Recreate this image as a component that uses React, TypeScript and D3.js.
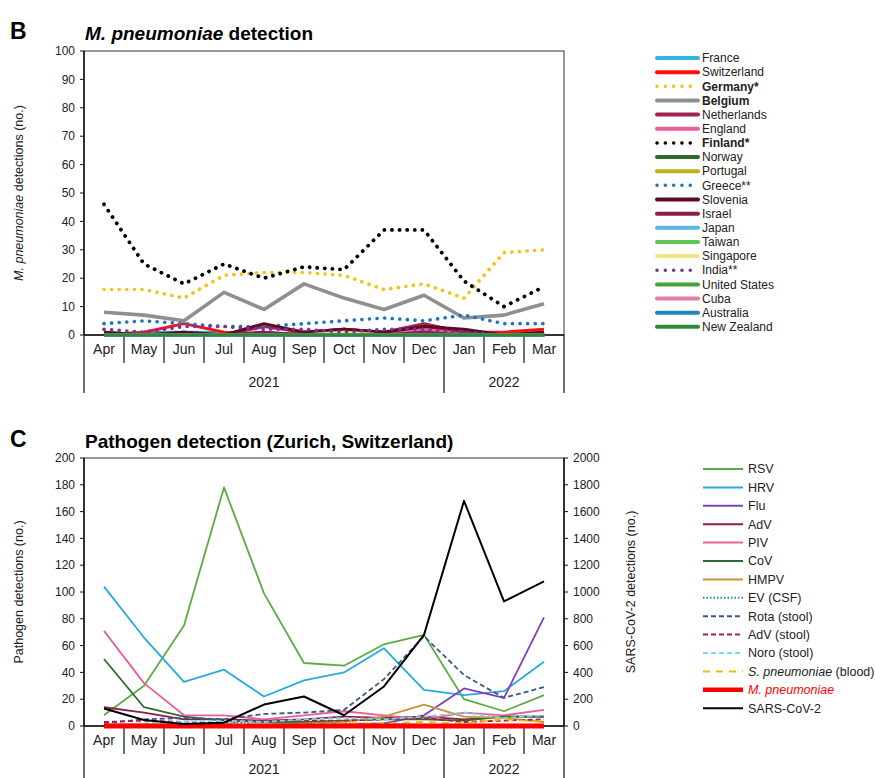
import React, { useEffect, useRef } from "react";
import * as d3 from "d3";

const FONT = "'Liberation Sans', Arial, sans-serif";

// shared x categories
const months = ["Apr", "May", "Jun", "Jul", "Aug", "Sep", "Oct", "Nov", "Dec", "Jan", "Feb", "Mar"];
const yearLabels = ["2021", "2022"];
const yearStarts = [0, 9, 12]; // month index where each year group starts / ends

// panel B: M. pneumoniae detections per country
const franceB = [0, 1, 1, 1, 0, 0, 0, 1, 1, 0, 0, 0];
const switzerlandB = [0, 1, 4, 1, 0, 1, 2, 1, 3, 1, 1, 2];
const germanyB = [16, 16, 13, 21, 22, 22, 21, 16, 18, 13, 29, 30];
const belgiumB = [8, 7, 5, 15, 9, 18, 13, 9, 14, 6, 7, 11];
const netherlandsB = [1, 0, 1, 0, 3, 1, 2, 1, 4, 1, 0, 1];
const englandB = [0, 0, 0, 0, 1, 0, 1, 0, 2, 0, 0, 1];
const finlandB = [46, 25, 18, 25, 20, 24, 23, 37, 37, 19, 10, 17];
const norwayB = [0, 0, 0, 0, 0, 0, 0, 0, 0, 0, 0, 0];
const portugalB = [0, 0, 0, 0, 0, 0, 1, 0, 0, 0, 0, 0];
const greeceB = [4, 5, 4, 3, 3, 4, 5, 6, 5, 7, 4, 4];
const sloveniaB = [1, 0, 1, 0, 4, 1, 2, 1, 3, 2, 0, 1];
const israelB = [0, 0, 0, 0, 1, 0, 1, 0, 1, 0, 0, 0];
const japanB = [0, 0, 0, 0, 0, 0, 0, 0, 0, 0, 0, 0];
const taiwanB = [0, 0, 0, 0, 0, 0, 0, 0, 0, 0, 0, 0];
const singaporeB = [0, 0, 0, 0, 0, 0, 1, 0, 0, 0, 0, 0];
const indiaB = [2, 1, 3, 3, 2, 2, 1, 2, 2, 1, 0, 0];
const usB = [0, 0, 0, 0, 0, 0, 0, 0, 0, 0, 0, 0];
const cubaB = [0, 0, 0, 0, 0, 0, 0, 0, 0, 0, 0, 0];
const australiaB = [0, 0, 0, 0, 0, 0, 0, 0, 0, 0, 0, 0];
const newZealandB = [0, 0, 0, 0, 0, 0, 0, 0, 0, 0, 0, 0];
const yTicksB = d3.range(0, 101, 10);

// panel C: pathogen detections in Zurich
const rsvC = [8, 30, 75, 178, 99, 47, 45, 61, 68, 20, 11, 23];
const hrvC = [104, 66, 33, 42, 22, 34, 40, 58, 27, 23, 26, 48];
const fluC = [1, 1, 0, 0, 0, 1, 1, 2, 8, 28, 21, 81];
const advC = [14, 10, 5, 5, 4, 5, 7, 6, 7, 5, 7, 7];
const pivC = [71, 32, 8, 8, 5, 8, 11, 8, 5, 10, 8, 12];
const covC = [50, 14, 7, 4, 3, 3, 4, 5, 5, 4, 7, 7];
const hmpvC = [1, 0, 0, 0, 1, 2, 3, 7, 16, 7, 6, 3];
const evC = [1, 1, 2, 2, 3, 2, 2, 2, 1, 1, 1, 1];
const rotaC = [2, 5, 6, 5, 9, 10, 12, 35, 67, 38, 21, 29];
const advStoolC = [3, 4, 3, 3, 4, 4, 4, 5, 6, 3, 4, 5];
const noroC = [1, 2, 3, 4, 3, 5, 6, 5, 7, 10, 6, 8];
const sPneumoC = [1, 1, 1, 1, 1, 1, 2, 2, 3, 2, 5, 3];
const mPneumoC = [0, 0, 0, 0, 0, 0, 0, 0, 0, 0, 0, 0];
const sarsC = [130, 45, 15, 25, 160, 220, 80, 295, 680, 1680, 930, 1080];
const yTicksC = d3.range(0, 201, 20);
const yTicksCRight = d3.range(0, 2001, 200);

const dot = "0.1 7.5";

const seriesB = [
  { name: "France", values: franceB, color: "#35b3e6", width: 3 },
  { name: "Switzerland", values: switzerlandB, color: "#ff1010", width: 3 },
  { name: "Germany*", values: germanyB, color: "#f5c211", width: 3.6, dash: dot, bold: true },
  { name: "Belgium", values: belgiumB, color: "#8f8f8f", width: 3.6, bold: true },
  { name: "Netherlands", values: netherlandsB, color: "#a3204f", width: 3 },
  { name: "England", values: englandB, color: "#e8609c", width: 3 },
  { name: "Finland*", values: finlandB, color: "#000000", width: 3.8, dash: dot, bold: true },
  { name: "Norway", values: norwayB, color: "#2f6a2a", width: 3 },
  { name: "Portugal", values: portugalB, color: "#bcb021", width: 3 },
  { name: "Greece**", values: greeceB, color: "#1f74bd", width: 3.6, dash: dot },
  { name: "Slovenia", values: sloveniaB, color: "#5c0c22", width: 3 },
  { name: "Israel", values: israelB, color: "#8e1a4e", width: 3 },
  { name: "Japan", values: japanB, color: "#59b6dc", width: 3 },
  { name: "Taiwan", values: taiwanB, color: "#5cc65a", width: 3 },
  { name: "Singapore", values: singaporeB, color: "#f1e58a", width: 3 },
  { name: "India**", values: indiaB, color: "#7a3399", width: 3.6, dash: dot },
  { name: "United States", values: usB, color: "#43a23a", width: 3 },
  { name: "Cuba", values: cubaB, color: "#df7fab", width: 3 },
  { name: "Australia", values: australiaB, color: "#1f86bf", width: 3 },
  { name: "New Zealand", values: newZealandB, color: "#2d8a37", width: 3 },
];

const seriesC = [
  { name: "RSV", values: rsvC, color: "#5aab45", width: 1.8 },
  { name: "HRV", values: hrvC, color: "#27aae2", width: 1.8 },
  { name: "Flu", values: fluC, color: "#7f3fc0", width: 1.8 },
  { name: "AdV", values: advC, color: "#8c1c4c", width: 1.8 },
  { name: "PIV", values: pivC, color: "#e8609a", width: 1.8 },
  { name: "CoV", values: covC, color: "#2f6a2f", width: 1.8 },
  { name: "HMPV", values: hmpvC, color: "#c99633", width: 1.8 },
  { name: "EV (CSF)", values: evC, color: "#16998a", width: 1.8, dash: "1.5 2" },
  { name: "Rota (stool)", values: rotaC, color: "#3b5889", width: 1.8, dash: "5 3" },
  { name: "AdV (stool)", values: advStoolC, color: "#a3204f", width: 1.8, dash: "5 3" },
  { name: "Noro (stool)", values: noroC, color: "#7fd3ea", width: 1.8, dash: "5 3" },
  { name: "S. pneumoniae", suffix: " (blood)", italic: true, values: sPneumoC, color: "#f5b800", width: 1.8, dash: "7 6" },
  { name: "M. pneumoniae", italic: true, red: true, values: mPneumoC, color: "#ff0000", width: 5 },
  { name: "SARS-CoV-2", values: sarsC, color: "#000000", width: 2, right: true },
];

function drawFrame(svg, x, y, yTicks, top, bottom, left, right, yearOffset) {
  const g = svg.append("g");
  const bw = x.bandwidth();
  // plot box
  g.append("rect").attr("x", left).attr("y", top).attr("width", right - left).attr("height", bottom - top)
    .attr("fill", "none").attr("stroke", "#333").attr("stroke-width", 1);
  g.append("line").attr("x1", left).attr("x2", left).attr("y1", top).attr("y2", bottom)
    .attr("stroke", "#111").attr("stroke-width", 1.5);
  g.append("line").attr("x1", left).attr("x2", right).attr("y1", bottom).attr("y2", bottom)
    .attr("stroke", "#111").attr("stroke-width", 1.5);
  // left ticks
  g.selectAll(".yt").data(yTicks).enter().append("line")
    .attr("x1", left - 4).attr("x2", left).attr("y1", (d) => y(d)).attr("y2", (d) => y(d))
    .attr("stroke", "#111").attr("stroke-width", 1);
  g.selectAll(".yl").data(yTicks).enter().append("text")
    .attr("x", left - 9).attr("y", (d) => y(d)).attr("dy", "0.35em")
    .attr("text-anchor", "end").attr("font-size", 12).attr("font-family", FONT).attr("fill", "#222")
    .text((d) => d);
  // month separators
  g.selectAll(".sep").data(d3.range(0, months.length + 1)).enter().append("line")
    .attr("x1", (i) => left + i * bw).attr("x2", (i) => left + i * bw)
    .attr("y1", bottom).attr("y2", (i) => (yearStarts.includes(i) ? bottom + 58 : bottom + 28))
    .attr("stroke", "#111").attr("stroke-width", 1.2);
  g.selectAll(".ml").data(months).enter().append("text")
    .attr("x", (d) => x(d) + bw / 2).attr("y", bottom + 19)
    .attr("text-anchor", "middle").attr("font-size", 14).attr("font-family", FONT).attr("fill", "#222")
    .text((d) => d);
  g.selectAll(".yr").data(yearLabels).enter().append("text")
    .attr("x", (d, i) => left + ((yearStarts[i] + yearStarts[i + 1]) / 2) * bw).attr("y", bottom + yearOffset)
    .attr("text-anchor", "middle").attr("font-size", 14).attr("font-family", FONT).attr("fill", "#222")
    .text((d) => d);
}

function drawSeries(svg, x, y, s) {
  const bw = x.bandwidth();
  const line = d3.line<number>().x((d, i) => x(months[i]) + bw / 2).y((d) => y(d));
  svg.append("path").attr("d", line(s.values)).attr("fill", "none")
    .attr("stroke", s.color).attr("stroke-width", s.width)
    .attr("stroke-linecap", s.dash === dot ? "round" : "butt").attr("stroke-linejoin", "round")
    .attr("stroke-dasharray", s.dash || null);
}

export default function App() {
  const svgRef = useRef(null);

  useEffect(() => {
    const svg = d3.select(svgRef.current);
    svg.selectAll("*").remove();
    const left = 84, right = 564;
    const x = d3.scaleBand().domain(months).range([left, right]).padding(0);

    // ---------- panel B ----------
    const topB = 51, bottomB = 335;
    const yB = d3.scaleLinear().domain([0, 100]).range([bottomB, topB]);
    svg.append("text").attr("x", 10).attr("y", 39).attr("font-size", 23).attr("font-weight", "bold")
      .attr("font-family", FONT).text("B");
    const tB = svg.append("text").attr("x", 85).attr("y", 40).attr("font-size", 19).attr("font-weight", "bold")
      .attr("font-family", FONT);
    tB.append("tspan").attr("font-style", "italic").text("M. pneumoniae");
    tB.append("tspan").text(" detection");
    drawFrame(svg, x, yB, yTicksB, topB, bottomB, left, right, 52);
    const labB = svg.append("text").attr("transform", `translate(23,${(topB + bottomB) / 2}) rotate(-90)`)
      .attr("text-anchor", "middle").attr("font-size", 12.5).attr("font-family", FONT).attr("fill", "#222");
    labB.append("tspan").attr("font-style", "italic").text("M. pneumoniae");
    labB.append("tspan").text(" detections (no.)");
    seriesB.forEach((s) => drawSeries(svg, x, yB, s));

    // legend B
    const legB = svg.append("g");
    seriesB.forEach((s, i) => {
      const ly = 58 + i * 14.15;
      legB.append("line").attr("x1", 657).attr("x2", 698).attr("y1", ly).attr("y2", ly)
        .attr("stroke", s.color).attr("stroke-width", s.dash ? 3.5 : 4)
        .attr("stroke-linecap", "round").attr("stroke-dasharray", s.dash ? "0.1 8.2" : null);
      legB.append("text").attr("x", 702).attr("y", ly).attr("dy", "0.35em").attr("font-size", 12)
        .attr("font-family", FONT).attr("fill", "#222").attr("font-weight", s.bold ? "bold" : null)
        .text(s.name);
    });

    // ---------- panel C ----------
    const topC = 458, bottomC = 726;
    const yC = d3.scaleLinear().domain([0, 200]).range([bottomC, topC]);
    const yR = d3.scaleLinear().domain([0, 2000]).range([bottomC, topC]);
    svg.append("text").attr("x", 10).attr("y", 447).attr("font-size", 23).attr("font-weight", "bold")
      .attr("font-family", FONT).text("C");
    svg.append("text").attr("x", 85).attr("y", 448).attr("font-size", 19).attr("font-weight", "bold")
      .attr("font-family", FONT).text("Pathogen detection (Zurich, Switzerland)");
    drawFrame(svg, x, yC, yTicksC, topC, bottomC, left, right, 48);
    // right axis
    svg.append("line").attr("x1", right).attr("x2", right).attr("y1", topC).attr("y2", bottomC)
      .attr("stroke", "#111").attr("stroke-width", 1.5);
    svg.selectAll(".rt").data(yTicksCRight).enter().append("line")
      .attr("x1", right).attr("x2", right + 4).attr("y1", (d) => yR(d)).attr("y2", (d) => yR(d))
      .attr("stroke", "#111").attr("stroke-width", 1);
    svg.selectAll(".rl").data(yTicksCRight).enter().append("text")
      .attr("x", right + 9).attr("y", (d) => yR(d)).attr("dy", "0.35em")
      .attr("font-size", 12).attr("font-family", FONT).attr("fill", "#222").text((d) => d);
    svg.append("text").attr("transform", `translate(23,${(topC + bottomC) / 2}) rotate(-90)`)
      .attr("text-anchor", "middle").attr("font-size", 12.5).attr("font-family", FONT).attr("fill", "#222")
      .text("Pathogen detections (no.)");
    svg.append("text").attr("transform", `translate(635,${(topC + bottomC) / 2}) rotate(-90)`)
      .attr("text-anchor", "middle").attr("font-size", 12.5).attr("font-family", FONT).attr("fill", "#222")
      .text("SARS-CoV-2 detections (no.)");
    seriesC.forEach((s) => drawSeries(svg, x, s.right ? yR : yC, s));

    // legend C
    const legC = svg.append("g");
    seriesC.forEach((s, i) => {
      const ly = 469 + i * 18.4;
      legC.append("line").attr("x1", 703).attr("x2", 743).attr("y1", ly).attr("y2", ly)
        .attr("stroke", s.color).attr("stroke-width", s.width >= 4 ? 4.5 : 2)
        .attr("stroke-dasharray", s.dash || null);
      const t = legC.append("text").attr("x", 748).attr("y", ly).attr("dy", "0.35em").attr("font-size", 12.5)
        .attr("font-family", FONT).attr("fill", s.red ? "#ff0000" : "#222");
      t.append("tspan").attr("font-style", s.italic ? "italic" : null).text(s.name);
      if (s.suffix) t.append("tspan").text(s.suffix);
    });
  }, []);

  return (
    <svg ref={svgRef} width={875} height={778}
      style={{ position: "absolute", left: 0, top: 0, background: "#fff", display: "block" }} />
  );
}
